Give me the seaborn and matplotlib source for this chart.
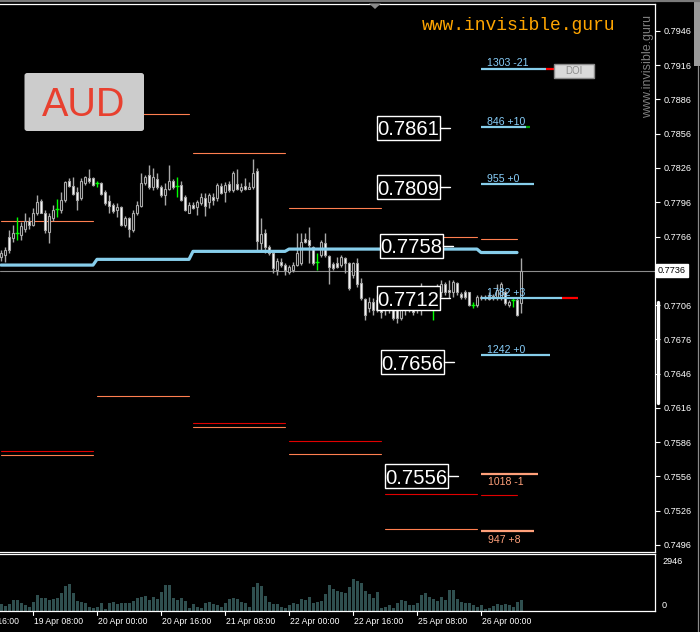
import numpy as np
import pandas as pd
import matplotlib
matplotlib.use("Agg")
import matplotlib.pyplot as plt
import seaborn as sns
from matplotlib.patches import Rectangle, FancyBboxPatch, Polygon
from matplotlib.lines import Line2D
import matplotlib.transforms as mtransforms

# ---------------- data ----------------
date_labels = ["18 Apr 16:00", "19 Apr 08:00", "20 Apr 00:00", "20 Apr 16:00",
               "21 Apr 08:00", "22 Apr 00:00", "22 Apr 16:00", "25 Apr 08:00",
               "26 Apr 00:00"]
date_bar_index = [-8, 8, 24, 40, 56, 72, 88, 104, 120]

opens = [0.7748, 0.7750, 0.7766, 0.7765, 0.7769, 0.7767, 0.7773, 0.7780, 0.7776, 0.7787,
         0.7797, 0.7787, 0.7770, 0.7782, 0.7790, 0.7789, 0.7798, 0.7815, 0.7810, 0.7805,
         0.7800, 0.7813, 0.7817, 0.7817, 0.7813, 0.7813, 0.7805, 0.7797, 0.7794, 0.7789,
         0.7792, 0.7776, 0.7782, 0.7772, 0.7787, 0.7793, 0.7813, 0.7820, 0.7809, 0.7816,
         0.7809, 0.7802, 0.7808, 0.7815, 0.7810, 0.7811, 0.7801, 0.7787, 0.7794, 0.7792,
         0.7795, 0.7800, 0.7796, 0.7801, 0.7800, 0.7810, 0.7805, 0.7812, 0.7807, 0.7812,
         0.7807, 0.7810, 0.7808, 0.7809, 0.7823, 0.7760, 0.7769, 0.7757, 0.7752, 0.7737,
         0.7744, 0.7741, 0.7735, 0.7737, 0.7741, 0.7743, 0.7764, 0.7763, 0.7757, 0.7744,
         0.7750, 0.7760, 0.7749, 0.7742, 0.7743, 0.7741, 0.7747, 0.7743, 0.7732, 0.7743,
         0.7725, 0.7711, 0.7703, 0.7709, 0.7702, 0.7710, 0.7712, 0.7702, 0.7708, 0.7704,
         0.7695, 0.7706, 0.7702, 0.7706, 0.7709, 0.7706, 0.7717, 0.7709, 0.7705, 0.7719,
         0.7717, 0.7724, 0.7719, 0.7717, 0.7725, 0.7716, 0.7717, 0.7717, 0.7706, 0.7706,
         0.7712, 0.7713, 0.7711, 0.7714, 0.7713, 0.7712, 0.7717, 0.7706, 0.7710, 0.7710,
         0.7708]
highs = [0.7754, 0.7757, 0.7772, 0.7776, 0.7783, 0.7779, 0.7787, 0.7783, 0.7791, 0.7802,
         0.7799, 0.7789, 0.7787, 0.7794, 0.7799, 0.7805, 0.7815, 0.7817, 0.7818, 0.7809,
         0.7817, 0.7819, 0.7825, 0.7818, 0.7815, 0.7814, 0.7807, 0.7802, 0.7795, 0.7795,
         0.7793, 0.7784, 0.7783, 0.7789, 0.7797, 0.7822, 0.7820, 0.7829, 0.7826, 0.7822,
         0.7811, 0.7813, 0.7829, 0.7816, 0.7818, 0.7815, 0.7802, 0.7796, 0.7796, 0.7798,
         0.7804, 0.7804, 0.7804, 0.7804, 0.7813, 0.7813, 0.7814, 0.7815, 0.7823, 0.7825,
         0.7813, 0.7817, 0.7814, 0.7834, 0.7826, 0.7782, 0.7773, 0.7759, 0.7754, 0.7747,
         0.7747, 0.7743, 0.7741, 0.7744, 0.7769, 0.7769, 0.7769, 0.7774, 0.7758, 0.7752,
         0.7763, 0.7769, 0.7750, 0.7744, 0.7748, 0.7750, 0.7748, 0.7744, 0.7744, 0.7747,
         0.7730, 0.7712, 0.7713, 0.7712, 0.7715, 0.7713, 0.7717, 0.7710, 0.7710, 0.7709,
         0.7710, 0.7710, 0.7719, 0.7709, 0.7710, 0.7725, 0.7719, 0.7723, 0.7709, 0.7724,
         0.7728, 0.7726, 0.7728, 0.7728, 0.7726, 0.7717, 0.7719, 0.7717, 0.7709, 0.7715,
         0.7715, 0.7715, 0.7717, 0.7716, 0.7724, 0.7726, 0.7719, 0.7710, 0.7713, 0.7712,
         0.7747]
lows = [0.7745, 0.7744, 0.7752, 0.7761, 0.7763, 0.7763, 0.7770, 0.7773, 0.7775, 0.7785,
        0.7787, 0.7769, 0.7760, 0.7780, 0.7783, 0.7787, 0.7796, 0.7809, 0.7802, 0.7789,
        0.7798, 0.7811, 0.7813, 0.7810, 0.7809, 0.7802, 0.7794, 0.7787, 0.7787, 0.7783,
        0.7775, 0.7774, 0.7766, 0.7770, 0.7785, 0.7792, 0.7811, 0.7808, 0.7807, 0.7808,
        0.7801, 0.7794, 0.7807, 0.7808, 0.7801, 0.7797, 0.7788, 0.7787, 0.7790, 0.7785,
        0.7794, 0.7784, 0.7791, 0.7794, 0.7797, 0.7803, 0.7796, 0.7805, 0.7805, 0.7807,
        0.7805, 0.7807, 0.7808, 0.7808, 0.7754, 0.7754, 0.7752, 0.7750, 0.7734, 0.7732,
        0.7739, 0.7732, 0.7733, 0.7735, 0.7740, 0.7741, 0.7760, 0.7743, 0.7741, 0.7737,
        0.7748, 0.7748, 0.7724, 0.7737, 0.7738, 0.7739, 0.7734, 0.7719, 0.7730, 0.7722,
        0.7710, 0.7693, 0.7700, 0.7697, 0.7700, 0.7695, 0.7697, 0.7699, 0.7693, 0.7690,
        0.7693, 0.7697, 0.7700, 0.7697, 0.7699, 0.7697, 0.7706, 0.7707, 0.7693, 0.7710,
        0.7713, 0.7715, 0.7712, 0.7713, 0.7715, 0.7711, 0.7711, 0.7705, 0.7703, 0.7704,
        0.7710, 0.7710, 0.7710, 0.7710, 0.7710, 0.7710, 0.7706, 0.7704, 0.7704, 0.7696,
        0.7699]
closes = [0.7752, 0.7754, 0.7754, 0.7769, 0.7769, 0.7775, 0.7780, 0.7776, 0.7787, 0.7796,
          0.7787, 0.7772, 0.7784, 0.7789, 0.7790, 0.7798, 0.7814, 0.7810, 0.7803, 0.7798,
          0.7815, 0.7818, 0.7815, 0.7811, 0.7813, 0.7803, 0.7795, 0.7793, 0.7788, 0.7792,
          0.7776, 0.7782, 0.7773, 0.7787, 0.7794, 0.7813, 0.7818, 0.7809, 0.7818, 0.7809,
          0.7802, 0.7808, 0.7815, 0.7809, 0.7810, 0.7798, 0.7789, 0.7794, 0.7791, 0.7796,
          0.7801, 0.7793, 0.7802, 0.7798, 0.7811, 0.7804, 0.7811, 0.7807, 0.7822, 0.7808,
          0.7809, 0.7808, 0.7809, 0.7822, 0.7762, 0.7768, 0.7757, 0.7752, 0.7738, 0.7745,
          0.7741, 0.7737, 0.7739, 0.7741, 0.7752, 0.7761, 0.7761, 0.7759, 0.7743, 0.7744,
          0.7761, 0.7750, 0.7739, 0.7738, 0.7739, 0.7748, 0.7743, 0.7721, 0.7743, 0.7724,
          0.7712, 0.7697, 0.7709, 0.7702, 0.7710, 0.7700, 0.7702, 0.7708, 0.7695, 0.7695,
          0.7703, 0.7702, 0.7707, 0.7700, 0.7704, 0.7722, 0.7709, 0.7719, 0.7705, 0.7712,
          0.7724, 0.7717, 0.7717, 0.7726, 0.7717, 0.7713, 0.7713, 0.7706, 0.7706, 0.7713,
          0.7713, 0.7712, 0.7714, 0.7712, 0.7719, 0.7724, 0.7708, 0.7709, 0.7710, 0.7697,
          0.7736]
volumes = [361, 275, 361, 568, 568, 396, 310, 224, 482, 826,
           688, 688, 568, 619, 688, 912, 1290, 1393, 912, 516,
           464, 430, 224, 172, 224, 413, 120, 430, 464, 361,
           396, 396, 430, 499, 688, 740, 774, 568, 740, 602,
           998, 1342, 1342, 654, 568, 654, 516, 138, 361, 224,
           138, 430, 482, 361, 292, 224, 396, 636, 654, 602,
           447, 430, 224, 1221, 1428, 1290, 774, 464, 361, 361,
           189, 138, 310, 396, 361, 602, 568, 740, 430, 464,
           533, 877, 1342, 1135, 1032, 998, 946, 1221, 1634, 1548,
           1462, 1032, 860, 654, 980, 172, 224, 310, 138, 430,
           568, 516, 292, 292, 430, 808, 946, 705, 602, 533,
           740, 568, 1084, 1084, 619, 482, 396, 430, 310, 224,
           292, 103, 138, 258, 344, 292, 361, 292, 224, 447, 550]

price_ticks = [0.7496, 0.7526, 0.7556, 0.7586, 0.7616, 0.7646, 0.7676, 0.7706,
               0.7736, 0.7766, 0.7796, 0.7826, 0.7856, 0.7886, 0.7916, 0.7946]
current_price = 0.7736
volume_max_label = 2946

# daily segments (start bar, end bar)
day_start = [0, 24, 48, 72, 96, 120]
day_end = [23, 47, 71, 95, 119, 129]
band_daily = [0.7741, 0.7746, 0.7753, 0.7755, 0.7755, 0.7752]
upper_coral = [0.7780, 0.7873, 0.7839, 0.7791, 0.7766, 0.7764]
lower_red = [0.7578, np.nan, 0.7603, 0.7587, 0.7541, 0.7540]
lower_coral = [0.7575, 0.7626, 0.7599, 0.7576, 0.7510, np.nan]

# right side levels
level_labels = ["1303 -21", "846 +10", "955 +0", "1782 +3", "1242 +0", "1018 -1", "947 +8"]
level_prices = [0.7913, 0.7862, 0.7812, 0.7712, 0.7662, 0.7558, 0.7508]
level_kind = ["up", "up", "up", "up", "up", "down", "down"]

box_labels = ["0.7861", "0.7809", "0.7758", "0.7712", "0.7656", "0.7556"]
box_prices = [0.7861, 0.7809, 0.7758, 0.7712, 0.7656, 0.7556]

# ---------------- layout / styling ----------------
W, H = 700, 632
sns.set_theme(style="dark")
plt.rcParams["font.family"] = ["Liberation Sans", "DejaVu Sans"]

fig = plt.figure(figsize=(W / 100, H / 100), dpi=100, facecolor="black")

def fx(x):
    return x / W

def fy(y):
    return 1 - y / H

ax = fig.add_axes([0, fy(552), fx(655), (552 - 3.5) / H])
axv = fig.add_axes([0, fy(611), fx(655), (611 - 554) / H])

for a in (ax, axv):
    a.set_facecolor("black")
    for s in a.spines.values():
        s.set_color("white")
        s.set_linewidth(0.9)
    a.spines["left"].set_visible(False)
    a.set_xlim(-0.25, 163.5)
    a.grid(False)

ax.set_ylim(0.74898, 0.79700)

# y axis ticks on the right (the current price tag replaces its own tick label)
ax.yaxis.tick_right()
ax.set_yticks(price_ticks)
ax.set_yticklabels(["" if p == current_price else f"{p:.4f}" for p in price_ticks])
ax.tick_params(axis="y", colors="white", labelcolor="white", length=3.5, width=0.8,
               pad=2.5, labelsize=6.6, direction="out")
ax.set_xticks([])
axv.set_xticks([])
axv.set_yticks([])

idx = np.arange(len(opens))
o = np.array(opens)
h = np.array(highs)
l = np.array(lows)
c = np.array(closes)

# daily horizontal lines
for k in range(len(day_start)):
    xs = [day_start[k], day_end[k]]
    ax.plot(xs, [upper_coral[k]] * 2, color="#ff7f50", lw=0.8, zorder=1)
    if not np.isnan(lower_red[k]):
        ax.plot(xs, [lower_red[k]] * 2, color="#e00000", lw=0.8, zorder=1)
    if not np.isnan(lower_coral[k]):
        ax.plot(xs, [lower_coral[k]] * 2, color="#ff7f50", lw=0.8, zorder=1)

# current price line
ax.axhline(current_price, color="#8c8c8c", lw=0.8, zorder=1)

# candles
wick = "#a8a8a8"
up = c > o
dn = c < o
dj = c == o
ax.vlines(idx[~dj], l[~dj], h[~dj], color=wick, lw=1.0, zorder=3)
ax.vlines(idx[dj], l[dj], h[dj], color="#00ff00", lw=1.0, zorder=3)
ax.hlines(c[dj], idx[dj] - 0.45, idx[dj] + 0.45, color="#00ff00", lw=1.0, zorder=3)
bb = np.minimum(o, c)
bh = np.maximum(np.abs(c - o), 0.00005)
ax.bar(idx[up], bh[up], bottom=bb[up], width=0.62, color="black", edgecolor=wick,
       linewidth=0.8, zorder=4)
ax.bar(idx[dn], bh[dn], bottom=bb[dn], width=0.62, color="white", edgecolor=wick,
       linewidth=0.8, zorder=4)

# band (step line)
band = np.concatenate([[band_daily[k]] * (day_end[k] - day_start[k] + 1)
                       for k in range(len(day_start))])
band_df = pd.DataFrame({"bar": np.arange(len(band)), "level": band})
sns.lineplot(data=band_df, x="bar", y="level", ax=ax, color="#87ceeb", lw=2.3,
             zorder=5, legend=False)
ax.set_xlabel("")
ax.set_ylabel("")

# right side level lines
level_start = 120
level_end = [136.25, 131.25, 133.25, 140.25, 137.25, 134.25, 133.25]
level_ext = [("#ff0000", 138.25), ("#00a000", 132.25), None, ("#ff0000", 144.25),
             None, None, None]
for k, (lab, pr) in enumerate(zip(level_labels, level_prices)):
    col = "#87ceeb" if level_kind[k] == "up" else "#ffa07a"
    tcol = "#87cefa" if level_kind[k] == "up" else "#ffa07a"
    ax.plot([level_start, level_end[k]], [pr, pr], color=col, lw=1.6, zorder=6,
            solid_capstyle="butt")
    if level_ext[k] is not None:
        ax.plot([level_end[k], level_ext[k][1]], [pr, pr], color=level_ext[k][0],
                lw=1.6, zorder=6, solid_capstyle="butt")
    if level_kind[k] == "up":
        ax.annotate(lab, xy=(level_start + 1.5, pr), xytext=(0, 1.6),
                    textcoords="offset points", color=tcol, fontsize=7.6,
                    ha="left", va="baseline", zorder=6)
    else:
        ax.annotate(lab, xy=(level_start + 1.75, pr), xytext=(0, -8.2),
                    textcoords="offset points", color=tcol, fontsize=7.6,
                    ha="left", va="baseline", zorder=6)

# DOI button
doi = Rectangle((138.25, 0.79048), 10.0, 0.00123, facecolor="#d9d9d9",
                edgecolor="#8a8a8a", lw=1.0, zorder=7)
ax.add_patch(doi)
ax.text(143.25, 0.79110, "DOI", color="#8c8c8c", fontsize=7, ha="center",
        va="center", zorder=8)

# big price boxes
box_right = [109.75, 109.75, 110.5, 109.75, 110.75, 111.75]
box_w = 15.8
box_h = 0.0021
for lab, pr, xr in zip(box_labels, box_prices, box_right):
    ax.add_patch(Rectangle((xr - box_w, pr - box_h / 2), box_w, box_h,
                           facecolor="black", edgecolor="white", lw=1.0, zorder=10))
    ax.plot([xr, xr + 2.5], [pr, pr], color="white", lw=1.0, zorder=10)
    ax.annotate(lab, xy=(xr - box_w / 2, pr), xytext=(0, -5.3),
                textcoords="offset points", color="white", fontsize=14.6,
                ha="center", va="baseline", zorder=11)

# current price tag
blend = mtransforms.blended_transform_factory(ax.transAxes, ax.transData)
ax.text(1.004, current_price, "0.7736", transform=blend, color="black",
        fontsize=6.6, ha="left", va="center", clip_on=False, zorder=12,
        bbox=dict(boxstyle="square,pad=0.22", facecolor="white", edgecolor="white"))

# volume panel
vol_df = pd.DataFrame({"bar": idx, "volume": volumes})
sns.barplot(data=vol_df, x="bar", y="volume", ax=axv, native_scale=True,
            color="#2f4f4f", saturation=1, width=0.75, errorbar=None, linewidth=0)
axv.set_xlim(-0.25, 163.5)
axv.set_ylim(0, volume_max_label)
axv.set_xlabel("")
axv.set_ylabel("")
axv.set_xticks([])
axv.set_yticks([])
axv.text(1.0 + 7 / 655, 1 - 7 / 57, str(volume_max_label), transform=axv.transAxes,
         color="white", fontsize=6.6, ha="left", va="center", clip_on=False)
axv.text(1.0 + 7 / 655, 6 / 57, "0", transform=axv.transAxes, color="white",
         fontsize=6.6, ha="left", va="center", clip_on=False)

# date labels with ticks
blendv = mtransforms.blended_transform_factory(axv.transData, axv.transAxes)
for lab, bi in zip(date_labels, date_bar_index):
    axv.plot([bi, bi], [0, -4 / 57], color="white", lw=0.8, transform=blendv,
             clip_on=False)
    axv.text(bi + 0.3, -10 / 57, lab, transform=blendv, color="white", fontsize=6.2,
             ha="left", va="center", clip_on=False)

# ---------------- figure decorations ----------------
fig.add_artist(Line2D([0, 1], [fy(0.8), fy(0.8)], transform=fig.transFigure,
                      color="#7a7a7a", lw=1.6))
fig.add_artist(Polygon([[fx(369), fy(3.5)], [fx(381), fy(3.5)], [fx(375), fy(9)]],
                       closed=True, transform=fig.transFigure, facecolor="#8a8a8a",
                       edgecolor="none"))
# right window edge
fig.add_artist(Rectangle((fx(694), fy(66)), fx(6), 66 / H, transform=fig.transFigure,
                         facecolor="#9a9a9a", edgecolor="none"))
fig.add_artist(Line2D([fx(697.5), fx(697.5)], [fy(66), 0], transform=fig.transFigure,
                      color="#8a8a8a", lw=0.9))
# white range marker on axis
fig.add_artist(Line2D([fx(657.5), fx(657.5)], [fy(302), fy(403)],
                      transform=fig.transFigure, color="white", lw=2.4))

# AUD badge
fig.add_artist(FancyBboxPatch((fx(24.5), fy(131)), fx(119.5), 58 / H,
                              boxstyle="round,pad=0,rounding_size=0.004",
                              transform=fig.transFigure, facecolor="#cccccc",
                              edgecolor="none", zorder=20))
fig.text(fx(84), fy(116.5), "AUD", color="#e8402f", fontsize=28.5, ha="center",
         va="baseline", zorder=21)

# watermark texts
fig.text(fx(422), fy(30), "www.invisible.guru", color="#ffa500", fontsize=13,
         family=["Liberation Mono", "DejaVu Sans Mono"], ha="left", va="baseline")
fig.text(fx(648.5), fy(67), "www.invisible.guru", color="#7f7f7f", fontsize=9,
         rotation=90, ha="center", va="center")

fig.savefig("out.png", dpi=100, facecolor="black")
